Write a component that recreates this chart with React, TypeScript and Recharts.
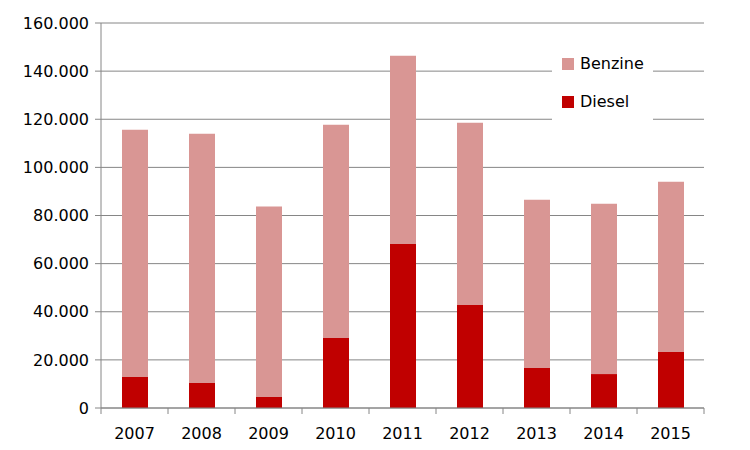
import React from 'react';
import { BarChart, Bar, XAxis, YAxis, CartesianGrid, Legend } from 'recharts';

const years = ['2007', '2008', '2009', '2010', '2011', '2012', '2013', '2014', '2015'];
const diesel = [12900, 10400, 4600, 29100, 68200, 42800, 16600, 14100, 23300];
const benzine = [102700, 103600, 79100, 88600, 78200, 75700, 69900, 70800, 70700];
const yTicks = [0, 20000, 40000, 60000, 80000, 100000, 120000, 140000, 160000];

const data = years.map((y, i) => ({ year: y, Diesel: diesel[i], Benzine: benzine[i] }));

const FONT = '"DejaVu Sans", sans-serif';
const GRID = '#868686';
const DIESEL_COLOR = '#C00000';
const BENZINE_COLOR = '#D99694';

const fmt = (v: number) => (v === 0 ? '0' : v.toLocaleString('de-DE', { minimumFractionDigits: 0 }).replace(/,/g, '.'));

const fmtThousands = (v: number) => {
  if (v === 0) return '0';
  const s = String(Math.round(v));
  return s.replace(/\B(?=(\d{3})+(?!\d))/g, '.');
};

const XTick = (props: any) => {
  const { x, y, payload, index, visibleTicksCount } = props;
  const off = payload && payload.offset ? payload.offset : 0;
  const axisY = y - 20;
  return (
    <g>
      <line x1={x - off} x2={x - off} y1={axisY} y2={axisY + 6} stroke={GRID} strokeWidth={1} />
      {index === visibleTicksCount - 1 ? (
        <line x1={x + off} x2={x + off} y1={axisY} y2={axisY + 6} stroke={GRID} strokeWidth={1} />
      ) : null}
      <text x={x} y={y} dy="0.71em" textAnchor="middle" fill="#000" fontSize={16} fontFamily={FONT}>
        {payload.value}
      </text>
    </g>
  );
};

const LegendBox = () => {
  const items = [
    { name: 'Benzine', color: BENZINE_COLOR },
    { name: 'Diesel', color: DIESEL_COLOR },
  ];
  return (
    <div style={{ background: '#fff', width: 101, height: 80, position: 'relative', fontFamily: FONT, fontSize: 16 }}>
      {items.map((it, i) => (
        <div key={it.name} style={{ position: 'absolute', left: 10, top: 16 + i * 38 - 9, height: 18, display: 'flex', alignItems: 'center' }}>
          <span style={{ display: 'inline-block', width: 12, height: 12, background: it.color, marginRight: 6 }} />
          <span style={{ color: '#000', lineHeight: '18px' }}>{it.name}</span>
        </div>
      ))}
    </div>
  );
};

export default function App() {
  return (
    <BarChart
      width={750}
      height={450}
      data={data}
      margin={{ top: 15, right: 54, left: 0, bottom: 20 }}
      barSize={26}
    >
      <CartesianGrid horizontal vertical={false} stroke={GRID} strokeWidth={1} />
      <XAxis
        dataKey="year"
        height={30}
        axisLine={{ stroke: GRID }}
        tickLine={false}
        tickSize={6}
        tickMargin={14}
        tick={<XTick />}
        interval={0}
      />
      <YAxis
        width={93}
        domain={[0, 160000]}
        ticks={yTicks}
        interval={0}
        axisLine={{ stroke: GRID }}
        tickLine={{ stroke: GRID }}
        tickSize={6}
        tickMargin={6}
        tickFormatter={fmtThousands}
        tick={{ fill: '#000', fontSize: 16, fontFamily: FONT }}
      />
      <Legend
        layout="horizontal"
        verticalAlign="middle"
        align="center"
        content={<LegendBox />}
        wrapperStyle={{ position: 'absolute', left: 544, top: 40, width: 101, height: 80 }}
      />
      <Bar dataKey="Diesel" stackId="a" fill={DIESEL_COLOR} isAnimationActive={false} />
      <Bar dataKey="Benzine" stackId="a" fill={BENZINE_COLOR} isAnimationActive={false} />
    </BarChart>
  );
}
